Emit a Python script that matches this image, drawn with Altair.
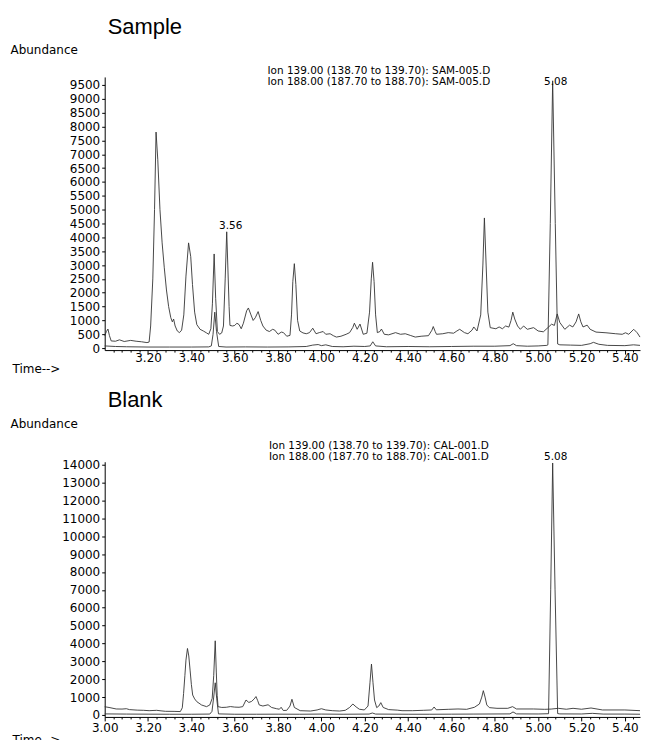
import altair as alt
import pandas as pd

# ---------------- data ----------------
# Sample (SAM-005.D), ion 139 trace
S139_T = [3.000, 3.008, 3.015, 3.022, 3.030, 3.050, 3.068, 3.090, 3.120, 3.145, 3.170, 3.195, 3.205,
          3.212, 3.222, 3.230, 3.237, 3.245, 3.255, 3.265, 3.275, 3.285, 3.295, 3.305, 3.312, 3.318,
          3.325, 3.335, 3.345, 3.355, 3.365, 3.375, 3.387, 3.397, 3.405, 3.415, 3.425, 3.440, 3.455,
          3.470, 3.480, 3.490, 3.497, 3.505, 3.512, 3.520, 3.530, 3.540, 3.548, 3.556, 3.563, 3.568,
          3.574, 3.578, 3.590, 3.600, 3.610, 3.620, 3.630, 3.640, 3.655, 3.663, 3.675, 3.685, 3.695,
          3.708, 3.720, 3.730, 3.745, 3.760, 3.775, 3.785, 3.800, 3.815, 3.825, 3.840, 3.855, 3.862,
          3.868, 3.875, 3.882, 3.890, 3.900, 3.915, 3.930, 3.945, 3.960, 3.975, 3.990, 4.008, 4.020,
          4.040, 4.055, 4.069, 4.090, 4.114, 4.130, 4.145, 4.152, 4.165, 4.178, 4.193, 4.210, 4.222,
          4.230, 4.236, 4.243, 4.250, 4.258, 4.270, 4.277, 4.290, 4.310, 4.342, 4.365, 4.387, 4.410,
          4.433, 4.460, 4.494, 4.510, 4.516, 4.525, 4.531, 4.560, 4.585, 4.610, 4.625, 4.638, 4.660,
          4.676, 4.695, 4.703, 4.718, 4.735, 4.745, 4.752, 4.760, 4.768, 4.779, 4.805, 4.820, 4.835,
          4.850, 4.865, 4.875, 4.883, 4.892, 4.905, 4.918, 4.933, 4.950, 4.979, 5.000, 5.024, 5.045,
          5.062, 5.075, 5.088, 5.100, 5.123, 5.145, 5.160, 5.175, 5.187, 5.197, 5.207, 5.226, 5.240,
          5.267, 5.313, 5.358, 5.388, 5.403, 5.418, 5.441, 5.457, 5.470]
S139_V = [450, 600, 690, 450, 260, 250, 300, 240, 280, 250, 230, 200, 220,
          800, 2500, 5000, 7800, 6800, 5000, 3800, 2900, 2100, 1500, 1100, 950, 1050,
          800, 620, 560, 650, 1200, 2600, 3800, 3300, 2300, 1300, 850, 680, 620,
          550, 500, 700, 1600, 3400, 1800, 600, 500, 550, 800, 2500, 4200, 3000,
          1500, 820, 800, 820, 900, 850, 700, 900, 1350, 1450, 1200, 1000, 1100,
          1320, 1000, 800, 650, 600, 680, 650, 500, 580, 560, 430, 460, 1200,
          2400, 3050, 2300, 1000, 620, 550, 520, 560, 720, 520, 560, 600, 500,
          520, 450, 400, 430, 500, 560, 750, 900, 680, 870, 500, 540, 1300,
          2500, 3100, 2400, 1200, 560, 600, 690, 500, 480, 560, 500, 520, 460,
          400, 430, 450, 650, 780, 600, 500, 520, 560, 540, 620, 680, 560,
          520, 650, 765, 620, 1200, 3000, 4700, 3000, 1300, 740, 700, 765, 700,
          800, 760, 1000, 1300, 1050, 800, 680, 800, 680, 740, 620, 590, 740,
          865, 820, 1235, 926, 680, 830, 765, 950, 1235, 950, 765, 830, 680,
          580, 555, 520, 500, 555, 500, 680, 555, 400]

# Sample, ion 188 trace
S188_T = [3.000, 3.050, 3.100, 3.200, 3.300, 3.400, 3.480, 3.492, 3.500, 3.508, 3.516, 3.526, 3.560,
          3.650, 3.750, 3.850, 3.930, 3.960, 3.985, 4.000, 4.020, 4.050, 4.100, 4.150, 4.200, 4.225,
          4.237, 4.250, 4.300, 4.400, 4.500, 4.600, 4.700, 4.800, 4.870, 4.885, 4.900, 4.950, 5.000,
          5.040, 5.045, 5.056, 5.067, 5.079, 5.090, 5.100, 5.150, 5.200, 5.240, 5.255, 5.280, 5.320,
          5.400, 5.440, 5.470]
S188_V = [80, 60, 50, 40, 40, 40, 45, 80, 500, 1300, 600, 60, 40,
          45, 40, 45, 60, 110, 130, 90, 120, 60, 50, 70, 60, 80,
          230, 80, 50, 60, 50, 60, 70, 70, 90, 160, 90, 70, 80,
          100, 120, 4500, 9650, 4500, 150, 120, 110, 100, 160, 210, 140, 100,
          90, 120, 100]

# Blank (CAL-001.D), ion 139 trace
B139_T = [3.000, 3.020, 3.053, 3.080, 3.100, 3.114, 3.150, 3.180, 3.205, 3.240, 3.260, 3.280, 3.320,
          3.349, 3.358, 3.364, 3.370, 3.375, 3.382, 3.388, 3.394, 3.400, 3.406, 3.415, 3.425, 3.447,
          3.470, 3.485, 3.496, 3.503, 3.510, 3.515, 3.519, 3.523, 3.540, 3.561, 3.580, 3.600, 3.620,
          3.637, 3.652, 3.665, 3.678, 3.690, 3.698, 3.706, 3.713, 3.730, 3.754, 3.770, 3.793, 3.806,
          3.814, 3.824, 3.840, 3.855, 3.864, 3.875, 3.902, 3.950, 3.980, 4.000, 4.020, 4.050, 4.084,
          4.110, 4.130, 4.145, 4.160, 4.175, 4.198, 4.215, 4.224, 4.231, 4.238, 4.245, 4.255, 4.265,
          4.274, 4.285, 4.310, 4.350, 4.372, 4.420, 4.470, 4.509, 4.520, 4.530, 4.585, 4.630, 4.670,
          4.706, 4.729, 4.740, 4.747, 4.755, 4.763, 4.775, 4.810, 4.860, 4.882, 4.900, 4.979, 5.030,
          5.060, 5.093, 5.130, 5.161, 5.200, 5.244, 5.297, 5.400, 5.470]
B139_V = [460, 420, 335, 330, 350, 300, 270, 260, 240, 260, 230, 205, 200,
          190, 400, 1200, 2200, 3070, 3720, 3300, 2510, 1700, 1116, 900, 744, 558,
          465, 560, 930, 2200, 4150, 2400, 1100, 465, 420, 430, 470, 440, 430,
          465, 837, 700, 760, 900, 1030, 800, 560, 500, 570, 420, 350, 320,
          430, 250, 260, 500, 880, 420, 240, 220, 280, 350, 280, 240, 220,
          260, 420, 614, 450, 320, 280, 500, 1800, 2850, 1800, 837, 410, 500,
          690, 420, 300, 270, 240, 240, 260, 280, 446, 290, 316, 335, 316,
          430, 614, 1000, 1360, 1000, 560, 410, 372, 372, 465, 335, 335, 316,
          330, 372, 320, 372, 320, 390, 280, 280, 240]

# Blank, ion 188 trace
B188_T = [3.000, 3.100, 3.200, 3.300, 3.400, 3.485, 3.495, 3.503, 3.510, 3.517, 3.525, 3.600, 3.700,
          3.800, 3.900, 4.000, 4.100, 4.220, 4.235, 4.250, 4.400, 4.500, 4.600, 4.700, 4.870, 4.884,
          4.900, 5.000, 5.048, 5.058, 5.067, 5.078, 5.090, 5.100, 5.200, 5.250, 5.300, 5.400, 5.470]
B188_V = [60, 50, 45, 40, 40, 50, 200, 1000, 1800, 900, 60, 40, 40,
          45, 40, 50, 40, 50, 110, 50, 40, 40, 45, 50, 60, 170,
          60, 55, 70, 7000, 14100, 7000, 80, 60, 55, 90, 50, 50, 40]

SAMPLE_HEADER = ["Ion 139.00 (138.70 to 139.70): SAM-005.D",
                 "Ion 188.00 (187.70 to 188.70): SAM-005.D"]
BLANK_HEADER = ["Ion 139.00 (138.70 to 139.70): CAL-001.D",
                "Ion 188.00 (187.70 to 188.70): CAL-001.D"]

# retention-time labels: (text, time, abundance)
SAMPLE_INNER_LABELS = [("3.56", 3.563, 4200)]
SAMPLE_TOP_LABELS = [("5.08", 5.067)]
BLANK_INNER_LABELS = []
BLANK_TOP_LABELS = [("5.08", 5.067)]

X_MAJOR_TEST = "abs(datum.value*5 - round(datum.value*5)) < 0.01"
X_TICKS = [round(3.0 + 0.04 * i, 2) for i in range(62)]
SAMPLE_Y_TICKS = [500 * i for i in range(20)]      # 0 .. 9500
BLANK_Y_TICKS = [1000 * i for i in range(15)]      # 0 .. 14000

FONT = "DejaVu Sans"
LINE_COLOR = "#333333"
HDR_SIZE = 10.5
HDR_LINE = 11.5


def traces(t139, v139, t188, v188):
    return pd.concat([
        pd.DataFrame({"t": t139, "v": v139, "ion": "139"}),
        pd.DataFrame({"t": t188, "v": v188, "ion": "188"}),
    ], ignore_index=True)


def panel(title, df, header, top_labels, inner_labels, ydom, yticks, height,
          xticks, hdr_y, abund_y, time_y, label_pad, title_offset):
    xscale = alt.Scale(domain=[3.0, 5.47], nice=False, zero=False)
    yscale = alt.Scale(domain=ydom, nice=False, zero=False)
    xaxis = alt.Axis(values=xticks, labelExpr=X_MAJOR_TEST + " ? format(datum.value, '.2f') : ''",
                     tickSize={"condition": {"test": X_MAJOR_TEST, "value": 4}, "value": 2},
                     labelFlush=False, labelOverlap=False, labelPadding=label_pad,
                     grid=False, title="Time-->", titleAngle=0, titleAlign="left",
                     titleBaseline="middle", titleX=-93, titleY=time_y)
    yaxis = alt.Axis(values=yticks, format="d", tickSize=3, labelPadding=2, grid=False,
                     labelOverlap=False, labelFlush=False,
                     title="Abundance", titleAngle=0, titleAlign="left", titleBaseline="middle",
                     titleX=-95, titleY=abund_y)
    lines = alt.Chart(df).mark_line(color=LINE_COLOR, strokeWidth=0.9).encode(
        x=alt.X("t:Q", scale=xscale, axis=xaxis),
        y=alt.Y("v:Q", scale=yscale, axis=yaxis),
        detail="ion:N",
    )
    hdr = alt.Chart(pd.DataFrame({"txt": [header]})).mark_text(
        font=FONT, fontSize=HDR_SIZE, lineHeight=HDR_LINE, align="center", baseline="middle",
        color="black"
    ).encode(text="txt:N", x=alt.value(275), y=alt.value(hdr_y))
    layers = [lines, hdr]
    if top_labels:
        tl = pd.DataFrame({"lab": [a for a, b in top_labels], "t": [b for a, b in top_labels]})
        layers.append(alt.Chart(tl).mark_text(
            font=FONT, fontSize=HDR_SIZE, align="center", baseline="middle", color="black", dx=3
        ).encode(text="lab:N", x=alt.X("t:Q", scale=xscale, axis=xaxis),
                 y=alt.value(hdr_y + HDR_LINE)))
    if inner_labels:
        il = pd.DataFrame({"lab": [a for a, b, c in inner_labels],
                           "t": [b for a, b, c in inner_labels],
                           "v": [c for a, b, c in inner_labels]})
        layers.append(alt.Chart(il).mark_text(
            font=FONT, fontSize=HDR_SIZE, align="center", baseline="middle", color="black",
            dx=4, dy=-6
        ).encode(text="lab:N", x=alt.X("t:Q", scale=xscale, axis=xaxis),
                 y=alt.Y("v:Q", scale=yscale, axis=yaxis)))
    return alt.layer(*layers).properties(
        width=537, height=height,
        title=alt.TitleParams(title, anchor="start", frame="group", font="Liberation Sans",
                              fontSize=22, fontWeight="normal", color="black", dx=3,
                              offset=title_offset),
    )


sample = panel("Sample", traces(S139_T, S139_V, S188_T, S188_V), SAMPLE_HEADER,
               SAMPLE_TOP_LABELS, SAMPLE_INNER_LABELS, [-70, 9790], SAMPLE_Y_TICKS, 274,
               [t for t in X_TICKS if t > 3.0], -6, -28, 18, -2, 4)
blank = panel("Blank", traces(B139_T, B139_V, B188_T, B188_V), BLANK_HEADER,
              BLANK_TOP_LABELS, BLANK_INNER_LABELS, [-110, 14170], BLANK_Y_TICKS, 256,
              X_TICKS, -16, -38, 23, 2, 6)

chart = alt.vconcat(sample, blank, spacing=15).properties(
    padding={"left": 2, "top": 7, "right": 0, "bottom": 0}
).configure_view(stroke=None).configure_axis(
    domainColor="black", tickColor="black", labelColor="black", titleColor="black",
    labelFont=FONT, labelFontSize=12, titleFont=FONT, titleFontSize=12, titleFontWeight="normal",
    domainWidth=1, tickWidth=1, labelOverlap=False,
).configure_concat(spacing=15)

chart.save("out.html", embed_options={"renderer": "svg", "actions": False})
